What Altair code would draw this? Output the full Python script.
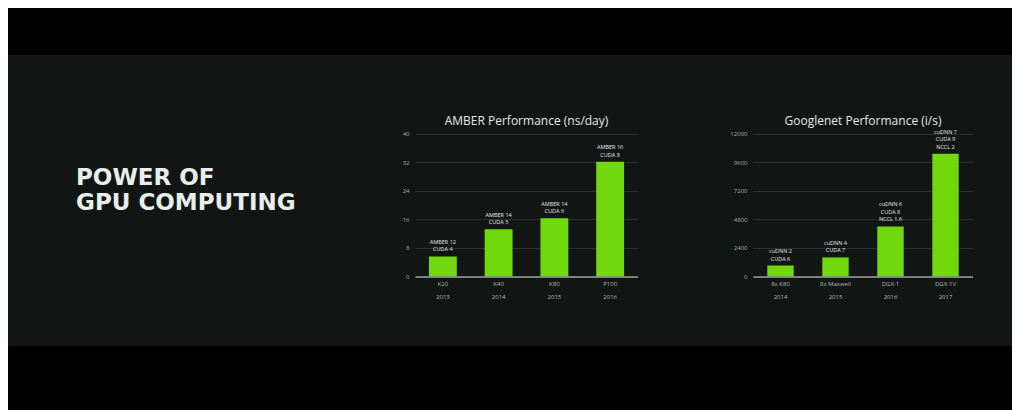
import altair as alt
import pandas as pd

# ---------------- data ----------------
amber_gpus = ["K20", "K40", "K80", "P100"]
amber_years = ["2013", "2014", "2015", "2016"]
amber_values = [5.6, 13.2, 16.3, 32.1]
amber_notes = ["AMBER 12|CUDA 4", "AMBER 14|CUDA 5", "AMBER 14|CUDA 6", "AMBER 16|CUDA 8"]
amber_ticks = [0, 8, 16, 24, 32, 40]

gnet_systems = ["8x K80", "8x Maxwell", "DGX-1", "DGX-1V"]
gnet_years = ["2014", "2015", "2016", "2017"]
gnet_values = [920, 1600, 4200, 10300]
gnet_notes = ["cuDNN 2|CUDA 6", "cuDNN 4|CUDA 7", "cuDNN 6|CUDA 8|NCCL 1.6", "cuDNN 7|CUDA 9|NCCL 2"]
gnet_ticks = [0, 2400, 4800, 7200, 9600, 12000]

headline = ["POWER OF", "GPU COMPUTING"]

# ---------------- style ----------------
GREEN = "#72d80e"
BAND = "#111614"
FONT = "Open Sans"
BAND_H = 291
NOTE_LH = 7.5


def frame(names, years, values, notes):
    return pd.DataFrame({
        "label": [f"{n}|{y}" for n, y in zip(names, years)],
        "value": values,
        "note": notes,
    })


def panel(df, ticks, title, width, pin, pout):
    order = list(df["label"])
    x = alt.X(
        "label:N", sort=order,
        scale=alt.Scale(paddingInner=pin, paddingOuter=pout),
        axis=alt.Axis(
            title=None, orient="bottom", offset=-69.5, domain=True,
            domainColor="#9c9f9e", domainWidth=1.5, ticks=False, labelAngle=0,
            labelExpr="split(datum.label, '|')", labelFont=FONT, labelFontSize=6,
            labelColor="#b5b9b7", labelPadding=4, labelLineHeight=13,
            grid=False, zindex=1, labelOverlap=False,
        ),
    )
    y = alt.Y(
        "value:Q",
        scale=alt.Scale(domain=[ticks[0], ticks[-1]], range=[221.5, 78.5], nice=False),
        axis=alt.Axis(
            title=None, values=ticks, format="d", grid=True, gridColor="#2b302e",
            gridWidth=1, domain=False, ticks=False, labelFont=FONT, labelFontSize=6,
            labelColor="#a9adab", labelPadding=6, labelOverlap=False,
        ),
    )
    base = alt.Chart(df)
    layers = [base.mark_bar(color=GREEN).encode(x=x, y=y)]
    parts = "split(datum.note, '|')"
    for k in range(3):
        layers.append(
            base.transform_calculate(
                line=f"length({parts}) > {k} ? {parts}[length({parts}) - 1 - {k}] : ''"
            ).mark_text(
                baseline="bottom", dy=-4 - NOTE_LH * k,
                fontSize=5.5, color="#e6e9e8", font=FONT,
            ).encode(x=alt.X("label:N", sort=order), y="value:Q", text="line:N")
        )
    return alt.layer(*layers).properties(
        width=width, height=BAND_H,
        title=alt.TitleParams(
            title, fontSize=12, font=FONT, color="#e4e9e6", fontWeight="normal",
            anchor="middle", baseline="alphabetic", offset=-82,
        ),
    )


amber = panel(frame(amber_gpus, amber_years, amber_values, amber_notes),
              amber_ticks, "AMBER Performance (ns/day)", 223, 0.5, 0.25)
gnet = panel(frame(gnet_systems, gnet_years, gnet_values, gnet_notes),
             gnet_ticks, "Googlenet Performance (i/s)", 220, 0.52, 0.26)

text_panel = alt.Chart(pd.DataFrame({"t": ["\n".join(headline)]})).mark_text(
    align="left", baseline="alphabetic", lineBreak="\n", lineHeight=25,
    font="DejaVu Sans", fontWeight="bold", fontSize=23, color="#e8eeea",
).encode(x=alt.value(68), y=alt.value(130), text="t:N").properties(width=407, height=BAND_H)


def filler(w):
    return alt.Chart(pd.DataFrame({"a": [0]})).mark_point(opacity=0, size=1).encode(
        x=alt.value(w / 2), y=alt.value(BAND_H / 2)
    ).properties(width=w, height=BAND_H)


chart = alt.hconcat(
    text_panel, amber, filler(115), gnet, filler(39),
    spacing=0, bounds="flush",
    padding={"left": 0, "right": 0, "top": 47, "bottom": 64},
).configure(background="#000000").configure_view(fill=BAND, strokeWidth=0)

chart.save("out.html", embed_options={"renderer": "svg", "actions": False})
